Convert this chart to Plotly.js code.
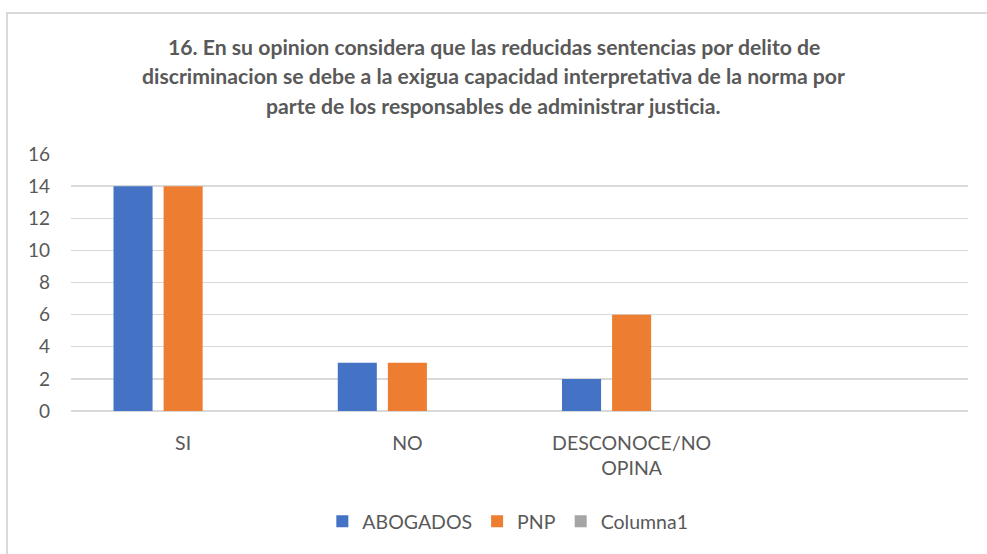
<!DOCTYPE html>
<html>
<head>
<meta charset="utf-8">
<script src="https://cdn.plot.ly/plotly-3.0.1.min.js"></script>
<style>
  html, body { margin: 0; padding: 0; background: #fff; }
  #wrap { position: relative; width: 987px; height: 554px; overflow: hidden; }
  #chart { width: 987px; height: 554px; }
  #frame { position: absolute; left: 6px; top: 12px; width: 1000px; height: 600px;
           border-left: 2px solid #D9D9D9; border-top: 2px solid #D9D9D9; pointer-events: none; }
</style>
</head>
<body>
<div id="wrap">
  <div id="chart"></div>
  <div id="frame"></div>
</div>
<script>
const categories = ["SI", "NO", "DESCONOCE/NO<br>OPINA"];
const abogados = [14, 3, 2];
const pnp = [14, 3, 6];
const columna1 = [null, null, null];
const titleLines = [
  "16. En su opinion considera que las reducidas sentencias por delito de",
  "discriminacion se debe a la exigua capacidad interpretativa de la norma por",
  "parte de los responsables de administrar justicia."
];
const yTicks = [0, 2, 4, 6, 8, 10, 12, 14, 16];

const FONT = "Lato, 'Open Sans', sans-serif";
const TXT = "#595959";

const traces = [
  { type: "bar", name: "ABOGADOS", x: categories, y: abogados, marker: { color: "#4472C4" } },
  { type: "bar", name: "PNP", x: categories, y: pnp, marker: { color: "#ED7D31" } },
  { type: "bar", name: "Columna1", x: categories, y: columna1, marker: { color: "#A5A5A5" } }
];

const titleY = [47, 76.5, 106];
const annotations = titleLines.map((t, i) => ({
  text: "<b>" + t + "</b>",
  xref: "paper", yref: "paper",
  x: (493.5 - 71) / 897, y: 1 + (154 - titleY[i]) / 256.7,
  xanchor: "center", yanchor: "middle",
  showarrow: false,
  font: { family: FONT, size: 21.2, color: TXT }
}));

const layout = {
  width: 987, height: 554,
  margin: { l: 71, r: 19, t: 154, b: 143.3, pad: 0 },
  paper_bgcolor: "rgba(0,0,0,0)",
  plot_bgcolor: "#fff",
  barmode: "group",
  bargap: 0.33,
  bargroupgap: 0.22,
  showlegend: true,
  legend: {
    orientation: "h", x: 0.487, xanchor: "center", y: -0.43, yanchor: "middle",
    font: { family: FONT, size: 19.5, color: TXT },
    itemwidth: 30, traceorder: "normal"
  },
  xaxis: {
    type: "category",
    range: [-0.5, 3.5],
    showgrid: false, zeroline: false,
    showline: false,
    ticks: "", ticklabelstandoff: 18,
    tickfont: { family: FONT, size: 19.5, color: TXT },
    fixedrange: true
  },
  yaxis: {
    range: [0, 16],
    tickvals: yTicks,
    showgrid: true, gridcolor: "#D9D9D9", gridwidth: 1.3,
    zeroline: true, zerolinecolor: "#D9D9D9", zerolinewidth: 1.5,
    showline: false, ticks: "",
    ticklabelstandoff: 20,
    tickfont: { family: FONT, size: 19, color: TXT },
    fixedrange: true
  },
  annotations: annotations
};

Plotly.newPlot("chart", traces, layout, { displayModeBar: false, staticPlot: true });
</script>
</body>
</html>
